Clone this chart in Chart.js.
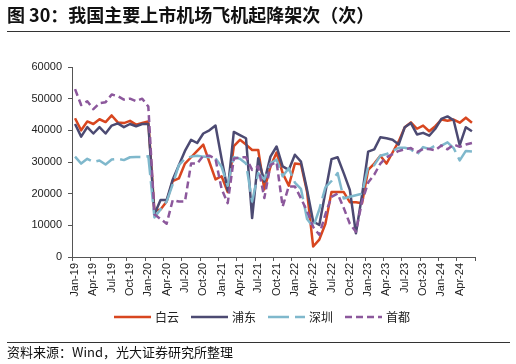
<!DOCTYPE html>
<html>
<head>
<meta charset="utf-8">
<script src="https://cdn.jsdelivr.net/npm/chart.js@4/dist/chart.umd.min.js"></script>
<style>
  html, body { margin: 0; padding: 0; background: #fff; }
  #wrap { position: relative; width: 516px; height: 364px; overflow: hidden; }
  #title { position: absolute; left: 7px; top: 4px; font: bold 18px "Noto Sans CJK SC", sans-serif; line-height: 21px; color: #111; white-space: nowrap; }
  .rule { position: absolute; left: 7px; width: 503px; height: 1px; background: #333; }
  #foot { position: absolute; left: 7px; top: 344px; font: 13px "Noto Sans CJK SC", sans-serif; line-height: 16px; color: #111; white-space: nowrap; }
  canvas { position: absolute; left: 0; top: 0; }
</style>
</head>
<body>
<div id="wrap">
  <canvas id="c" width="516" height="364"></canvas>
  <div id="title">图 30：我国主要上市机场飞机起降架次（次）</div>
  <div class="rule" style="top:31px;"></div>
  <div class="rule" style="top:342px;"></div>
  <div id="foot">资料来源：Wind，光大证券研究所整理</div>
</div>
<script>
const monthNames = ['Jan','Feb','Mar','Apr','May','Jun','Jul','Aug','Sep','Oct','Nov','Dec'];
const years = ['19','20','21','22','23','24'];
const categories = [];
for (const y of years) for (const m of monthNames) categories.push(m + '-' + y);
categories.length = 66; // Jan-19 .. Jun-24

const seriesNames = ['白云', '浦东', '深圳', '首都'];

const baiyun = [43800,40000,42800,42000,43500,42600,44700,42500,42300,43000,41800,42300,
  42800,14500,15000,17500,24000,24800,29500,31500,33500,35500,30000,24500,
  25500,20500,35000,37000,35500,33800,33800,21300,28500,33000,26500,22500,
  29500,29300,20500,3300,5500,10500,20500,20500,20500,17300,17300,17000,
  27500,29500,32000,29500,33000,36500,41000,42500,40500,41500,39700,41300,
  43400,43000,43400,42400,44000,42400];

const pudong = [42000,38000,41000,39000,41000,39000,41500,42200,41000,42000,41300,42000,
  42000,13500,18000,18000,24500,29000,33500,37000,36000,39000,40000,41500,
  31000,21000,39500,38500,37500,12300,31200,23800,31700,34900,28600,27500,
  32300,30100,21200,11200,10100,20500,30900,31500,26500,21200,7500,19500,
  33300,34000,37800,37500,37000,35500,41000,42300,38700,39200,38300,40500,
  43600,44400,43200,35300,41000,39700];

const shenzhen = [31700,29500,31000,30000,30500,29200,30800,31000,30600,31500,31600,31600,
  31800,12500,15000,17500,23000,29000,31000,31700,32000,31700,31500,31200,
  28500,22500,31500,31000,29500,17500,26500,24500,29500,30800,25500,28000,
  23500,21500,12000,9500,15000,22000,24000,26500,18500,19000,19500,20000,
  28500,29000,32000,32500,33500,34500,34500,34000,32300,34700,34100,35200,
  35200,36200,34400,30500,33500,33300];

const shoudu = [53000,48000,49200,46700,48600,48900,51300,50800,49700,50000,49200,50000,
  47500,13500,12000,10500,18000,17500,17500,29500,29500,32000,32000,31000,
  21500,17000,31000,31500,31500,27500,28600,18600,29100,30000,15900,22300,
  22300,18500,14500,9500,7000,13500,19000,20000,15500,10500,8000,17500,
  23500,26000,29500,31500,32500,33500,34000,34400,33100,34100,34100,33700,
  35200,34000,35500,34800,35500,36000];

const yTicks = [0, 10000, 20000, 30000, 40000, 50000, 60000];

const legendPlugin = {
  id: 'customLegend',
  afterDraw(chart) {
    const ctx = chart.ctx;
    const y = 317;
    let x = 114;
    chart.data.datasets.forEach((ds) => {
      ctx.save();
      ctx.strokeStyle = ds.borderColor;
      ctx.lineWidth = ds.borderWidth;
      ctx.setLineDash(ds.borderDash || []);
      ctx.lineCap = 'butt';
      ctx.beginPath();
      ctx.moveTo(x, y);
      ctx.lineTo(x + 37, y);
      ctx.stroke();
      ctx.setLineDash([]);
      ctx.fillStyle = '#222';
      ctx.font = '12px "Noto Sans CJK SC", sans-serif';
      ctx.textBaseline = 'middle';
      ctx.textAlign = 'left';
      ctx.fillText(ds.label, x + 41, y + 0.5);
      ctx.restore();
      x += 77;
    });
  }
};

new Chart(document.getElementById('c'), {
  type: 'line',
  data: {
    labels: categories,
    datasets: [
      { label: seriesNames[0], data: baiyun, borderColor: '#D8461F', borderWidth: 2.5, order: 4 },
      { label: seriesNames[1], data: pudong, borderColor: '#4C4A72', borderWidth: 2.5, order: 3 },
      { label: seriesNames[2], data: shenzhen, borderColor: '#7FB8CC', borderWidth: 2.5, borderDash: [21, 6], order: 2 },
      { label: seriesNames[3], data: shoudu, borderColor: '#8C589C', borderWidth: 2.5, borderDash: [7, 4], order: 1 }
    ]
  },
  options: {
    responsive: false,
    animation: false,
    devicePixelRatio: 1,
    elements: {
      point: { radius: 0, hoverRadius: 0 },
      line: { tension: 0, fill: false, borderJoinStyle: 'round', borderCapStyle: 'butt' }
    },
    layout: { padding: { left: 0, right: 41, top: 67, bottom: 57 } },
    plugins: { legend: { display: false }, tooltip: { enabled: false }, title: { display: false } },
    scales: {
      x: {
        type: 'category',
        offset: true,
        grid: {
          offset: true,
          drawOnChartArea: false,
          drawTicks: true,
          tickLength: 4,
          lineWidth: 1,
          color: (c) => (c.index === undefined || c.index % 3 === 0) ? '#555' : 'rgba(0,0,0,0)'
        },
        border: { display: true, color: '#555', width: 1 },
        ticks: {
          autoSkip: false,
          maxRotation: 90,
          minRotation: 90,
          padding: 2,
          color: '#222',
          font: { size: 11, family: '"Liberation Sans", Arial, sans-serif' },
          callback: (v, i) => (i % 3 === 0 ? categories[i] : '')
        },
        afterFit: (s) => { s.height = 50; }
      },
      y: {
        min: 0,
        max: 60000,
        afterBuildTicks: (s) => { s.ticks = yTicks.map(v => ({ value: v })); },
        grid: { drawOnChartArea: false, drawTicks: true, tickLength: 4, color: '#555', lineWidth: 1 },
        border: { display: true, color: '#555', width: 1 },
        ticks: {
          padding: 6,
          color: '#222',
          font: { size: 11, family: '"Liberation Sans", Arial, sans-serif' },
          callback: (v) => String(v)
        },
        afterFit: (s) => { s.width = 72; }
      }
    }
  },
  plugins: [legendPlugin]
});
</script>
</body>
</html>
